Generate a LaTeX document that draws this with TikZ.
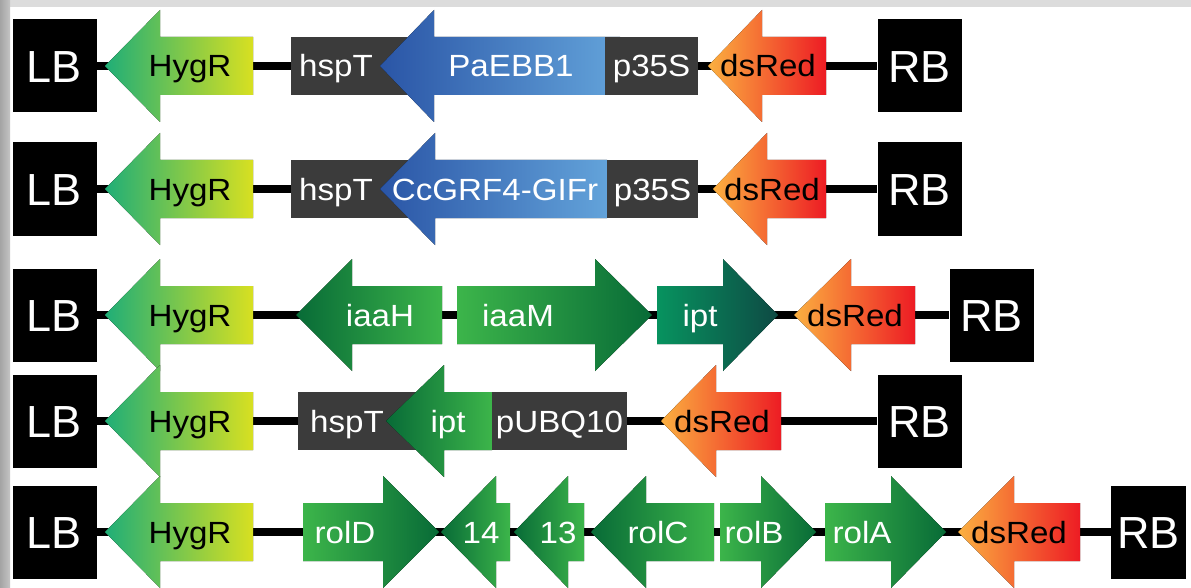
\documentclass[tikz,border=0pt]{standalone}
\usepackage{fontspec}
\setmainfont{Liberation Sans}
\newfontfamily\genefont[FakeStretch=1.08]{Liberation Sans}

\definecolor{hygtip}{HTML}{1FAE77}
\definecolor{hygend}{HTML}{D8E021}
\definecolor{bluetip}{HTML}{2A55A6}
\definecolor{blueend}{HTML}{63A3DA}
\definecolor{redtip}{HTML}{FBB040}
\definecolor{redend}{HTML}{ED1C24}
\definecolor{gdark}{HTML}{086B37}
\definecolor{glight}{HTML}{3CB54A}
\definecolor{tealA}{HTML}{07935F}
\definecolor{tealB}{HTML}{0E4A44}
\definecolor{boxgrey}{HTML}{3B3B3B}
\definecolor{bandtop}{HTML}{DCDCDC}
\definecolor{bandleftA}{HTML}{A4A4A4}
\definecolor{bandleftB}{HTML}{C4C4C4}

% gene pointing left: tip x, head base x, tail x, centre y, tip colour, tail colour
\newcommand\leftgene[6]{%
  \fill[left color=#5, right color=#6]
    (#1,#4) -- (#2,{#4-56}) -- (#2,{#4-29}) -- (#3,{#4-29})
    -- (#3,{#4+29}) -- (#2,{#4+29}) -- (#2,{#4+56}) -- cycle;}
% gene pointing right: tail x, head base x, tip x, centre y, tail colour, tip colour
\newcommand\rightgene[6]{%
  \fill[left color=#5, right color=#6]
    (#1,{#4-29}) -- (#2,{#4-29}) -- (#2,{#4-56}) -- (#3,#4)
    -- (#2,{#4+56}) -- (#2,{#4+29}) -- (#1,{#4+29}) -- cycle;}

\begin{document}
\begin{tikzpicture}[x=0.75pt,y=-0.75pt,
  endbox/.style={fill=black, text=white, inner sep=0pt,
    minimum width=84*0.75pt, minimum height=93*0.75pt,
    text height=24.2pt, text depth=0pt,
    font=\fontsize{33.75}{36}\selectfont},
  wlabel/.style={text=white, inner sep=0pt, text height=16.5pt, text depth=0pt,
    font=\genefont\fontsize{23}{26}\selectfont},
  blabel/.style={wlabel, text=black},
  greybox/.style={wlabel, fill=boxgrey, minimum height=58*0.75pt},
  backbone/.style={line width=6pt, black}]

\useasboundingbox (0,0) rectangle (1191,588);
\fill[white] (0,0) rectangle (1191,588);
\fill[bandtop] (0,0) rectangle (1191,7);
\fill[left color=bandleftA, right color=bandleftB] (0,0) rectangle (10,588);

% ---------- construct 1 ----------
\node[endbox] (lb1) at (54.5,66) {LB};
\node[endbox] (rb1) at (919.5,66) {RB};
\draw[backbone] (lb1.east) -- (rb1.west);
\leftgene{105}{160}{253}{66}{hygtip}{hygend}
\node[blabel] (hyg1) at (190,66) {HygR};
\fill[boxgrey] (291,37) rectangle (450,95);
\node[wlabel] (hsp1) at (336,66) {hspT};
\leftgene{380}{434}{620}{66}{bluetip}{blueend}
\node[wlabel] (ebb1) at (511,66) {PaEBB1};
\node[greybox, minimum width=93*0.75pt] (pro1) at (651.5,66) {p35S};
\leftgene{708}{762}{826}{66}{redtip}{redend}
\node[blabel] (ds1) at (768,66) {dsRed};

% ---------- construct 2 ----------
\node[endbox] (lb2) at (54.5,189) {LB};
\node[endbox] (rb2) at (919.5,189) {RB};
\draw[backbone] (lb2.east) -- (rb2.west);
\leftgene{105}{160}{253}{189}{hygtip}{hygend}
\node[blabel] (hyg2) at (190,189) {HygR};
\fill[boxgrey] (291,160) rectangle (450,218);
\node[wlabel] (hsp2) at (336,189) {hspT};
\leftgene{380}{435}{607}{189}{bluetip}{blueend}
\node[wlabel] (grf2) at (495,189) {CcGRF4-GIFr};
\node[greybox, minimum width=91*0.75pt] (pro2) at (652.5,189) {p35S};
\leftgene{713}{767}{826}{189}{redtip}{redend}
\node[blabel] (ds2) at (772,189) {dsRed};

% ---------- construct 3 ----------
\node[endbox] (lb3) at (54.5,315) {LB};
\node[endbox] (rb3) at (991.5,315) {RB};
\draw[backbone] (lb3.east) -- (rb3.west);
\leftgene{105}{160}{253}{315}{hygtip}{hygend}
\node[blabel] (hyg3) at (190,315) {HygR};
\leftgene{296}{352}{442}{315}{gdark}{glight}
\node[wlabel] (iaah3) at (380,315) {iaaH};
\rightgene{457}{595}{652}{315}{glight}{gdark}
\node[wlabel] (iaam3) at (518,315) {iaaM};
\rightgene{657}{723}{778}{315}{tealA}{tealB}
\node[wlabel] (ipt3) at (700,315) {ipt};
\leftgene{794}{851}{915}{315}{redtip}{redend}
\node[blabel] (ds3) at (855,315) {dsRed};

% ---------- construct 4 ----------
\node[endbox] (lb4) at (54.5,421) {LB};
\node[endbox] (rb4) at (919.5,421) {RB};
\draw[backbone] (lb4.east) -- (rb4.west);
\leftgene{105}{160}{253}{421}{hygtip}{hygend}
\node[blabel] (hyg4) at (190,421) {HygR};
\fill[boxgrey] (298,392) rectangle (450,450);
\node[wlabel] (hsp4) at (347,421) {hspT};
\leftgene{386}{444}{492}{421}{gdark}{glight}
\node[wlabel] (ipt4) at (448,421) {ipt};
\node[greybox, minimum width=135*0.75pt] (ubq4) at (559.5,421) {pUBQ10};
\leftgene{661}{716}{781}{421}{redtip}{redend}
\node[blabel] (ds4) at (722,421) {dsRed};

% ---------- construct 5 ----------
\node[endbox] (lb5) at (54.5,532) {LB};
\node[endbox, minimum width=75*0.75pt] (rb5) at (1148.5,532) {RB};
\draw[backbone] (lb5.east) -- (rb5.west);
\leftgene{105}{160}{253}{532}{hygtip}{hygend}
\node[blabel] (hyg5) at (190,532) {HygR};
\rightgene{303}{383}{439}{532}{glight}{gdark}
\node[wlabel] (rold5) at (345,532) {rolD};
\leftgene{441}{496}{510}{532}{gdark}{glight}
\node[wlabel] (orf14) at (481,532) {14};
\leftgene{514}{568}{584}{532}{gdark}{glight}
\node[wlabel] (orf13) at (558,532) {13};
\leftgene{591}{646}{714}{532}{gdark}{glight}
\node[wlabel] (rolc5) at (658,532) {rolC};
\rightgene{720}{761}{816}{532}{glight}{gdark}
\node[wlabel] (rolb5) at (754,532) {rolB};
\rightgene{825}{891}{946}{532}{glight}{gdark}
\node[wlabel] (rola5) at (862,532) {rolA};
\leftgene{958}{1014}{1080}{532}{redtip}{redend}
\node[blabel] (ds5) at (1019,532) {dsRed};

\end{tikzpicture}
\end{document}
